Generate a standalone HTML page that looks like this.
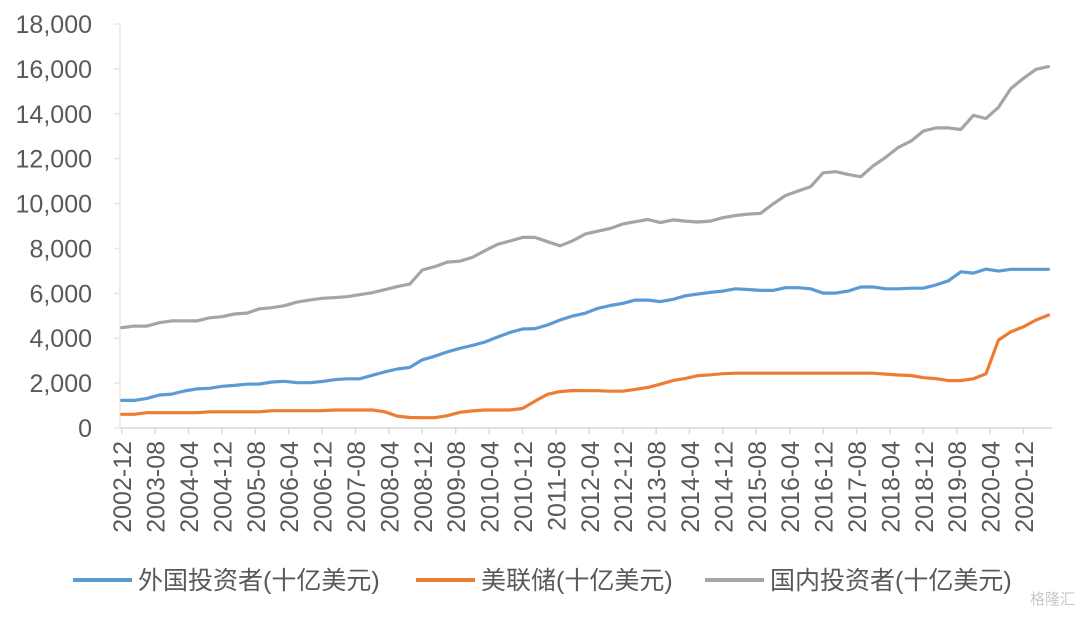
<!DOCTYPE html>
<html><head><meta charset="utf-8">
<style>
body{margin:0;background:#fff;}
svg text{font-family:"Liberation Sans","Noto Sans CJK SC",sans-serif;}
</style></head>
<body>
<svg id="chart" width="1080" height="613" xmlns="http://www.w3.org/2000/svg"></svg>
<script>
const startYear = 2002, startMonth = 12;
const quarterCount = 75;
const foreignValues = [1230,1230,1320,1470,1510,1650,1740,1770,1860,1900,1950,1960,2050,2080,2020,2020,2070,2150,2190,2190,2350,2500,2630,2700,3040,3200,3390,3550,3680,3830,4050,4260,4410,4430,4590,4810,4990,
5110,5330,5460,5550,5700,5700,5630,5730,5890,5970,6040,6100,6200,6170,6130,6130,6250,6250,6200,6010,6010,6100,6280,6280,6200,6200,6230,6230,6370,6560,6960,6900,7080,6990,7070,7070,7070,7070];
const fedValues = [610,610,680,680,680,680,680,720,720,720,720,720,770,770,770,770,770,800,800,800,800,720,530,470,460,460,550,700,760,800,800,800,870,1200,1500,1620,1670,
1660,1660,1640,1640,1720,1810,1950,2110,2210,2330,2370,2420,2440,2440,2440,2440,2440,2440,2440,2440,2440,2440,2440,2440,2400,2360,2340,2240,2200,2110,2110,2190,2410,3920,4290,4510,4810,5030];
const domesticValues = [4470,4540,4540,4690,4770,4770,4770,4910,4960,5080,5120,5310,5360,5450,5610,5700,5780,5810,5850,5940,6030,6160,6300,6410,7040,7190,7390,7430,7600,7900,8180,8330,8490,8490,8300,8120,8340,
8640,8770,8890,9090,9190,9290,9150,9270,9220,9180,9220,9370,9470,9530,9560,9980,10360,10560,10750,11370,11420,11300,11190,11680,12060,12500,12780,13230,13370,13370,13300,13930,13790,14290,15130,15580,15980,16100];
const yTicks = [0,2000,4000,6000,8000,10000,12000,14000,16000,18000];
const xTickLabels = ["2002-12","2003-08","2004-04","2004-12","2005-08","2006-04","2006-12","2007-08","2008-04","2008-12","2009-08","2010-04","2010-12","2011-08","2012-04","2012-12","2013-08","2014-04","2014-12","2015-08","2016-04","2016-12","2017-08","2018-04","2018-12","2019-08","2020-04","2020-12"];
const seriesNames = ["外国投资者(十亿美元)","美联储(十亿美元)","国内投资者(十亿美元)"];

const NS="http://www.w3.org/2000/svg";
const svg=document.getElementById('chart');
const X0=121.7, PX_PER_MONTH=4.175, Y0=428, PX_PER_UNIT=(428-24)/18000;
function monthsOf(label){const [y,m]=label.split('-').map(Number);return (y-startYear)*12+(m-startMonth);}
function xScale(months){return X0+months*PX_PER_MONTH;}
function yScale(v){return Y0-v*PX_PER_UNIT;}
function mk(tag,attrs){const e=document.createElementNS(NS,tag);for(const k in attrs)e.setAttribute(k,attrs[k]);svg.appendChild(e);return e;}

let e=mk('line',{x1:120,y1:yScale(18000),x2:120,y2:Y0,stroke:'#ebe7da','stroke-width':1.5});


yTicks.forEach(v=>{
  const t=mk('line',{x1:114,x2:120,y1:yScale(v),y2:yScale(v),stroke:'#ebe7da','stroke-width':1.5});
  
  
  const l=mk('text',{x:92,y:yScale(v)+9,'text-anchor':'end','font-size':25,fill:'#595959'});
  l.textContent=v.toLocaleString('en-US');
  
  
});
e=mk('line',{x1:120,y1:Y0,x2:1052,y2:Y0,stroke:'#d9d9d9','stroke-width':1.5});


xTickLabels.forEach(lab=>{
  const x=xScale(monthsOf(lab));
  const t=mk('line',{x1:x,x2:x,y1:Y0,y2:Y0+6,stroke:'#d9d9d9','stroke-width':1.5});
  
  
  const l=mk('text',{x:0,y:0,'text-anchor':'end','font-size':25,fill:'#595959',transform:`translate(${x+9.5},441) rotate(-90)`});
  l.textContent=lab;
  
  
});
function drawSeries(vals,color,name){
  const pts=vals.slice(0,quarterCount).map((v,i)=>xScale(i*3).toFixed(1)+','+yScale(v).toFixed(1)).join(' ');
  const p=mk('polyline',{points:pts,fill:'none',stroke:color,'stroke-width':3.2,'stroke-linejoin':'round','stroke-linecap':'round'});
  
  
}
drawSeries(foreignValues,'#5b9bd5','foreign-investors-line');
drawSeries(fedValues,'#ed7d31','fed-line');
drawSeries(domesticValues,'#a5a5a5','domestic-investors-line');

const legendColors=['#5b9bd5','#ed7d31','#a5a5a5'];
const legendX=[73,416,705];
seriesNames.forEach((n,i)=>{
  const ln=mk('line',{x1:legendX[i],x2:legendX[i]+59,y1:580,y2:580,stroke:legendColors[i],'stroke-width':4});
  
  
  const t=mk('text',{x:legendX[i]+65,y:589,'font-size':25,fill:'#595959'});
  t.textContent=n;
  
  
});
const wm=mk('text',{x:1030,y:604,'font-size':15,fill:'#c8c8c8'});
wm.textContent='格隆汇';


</script>
</body></html>
